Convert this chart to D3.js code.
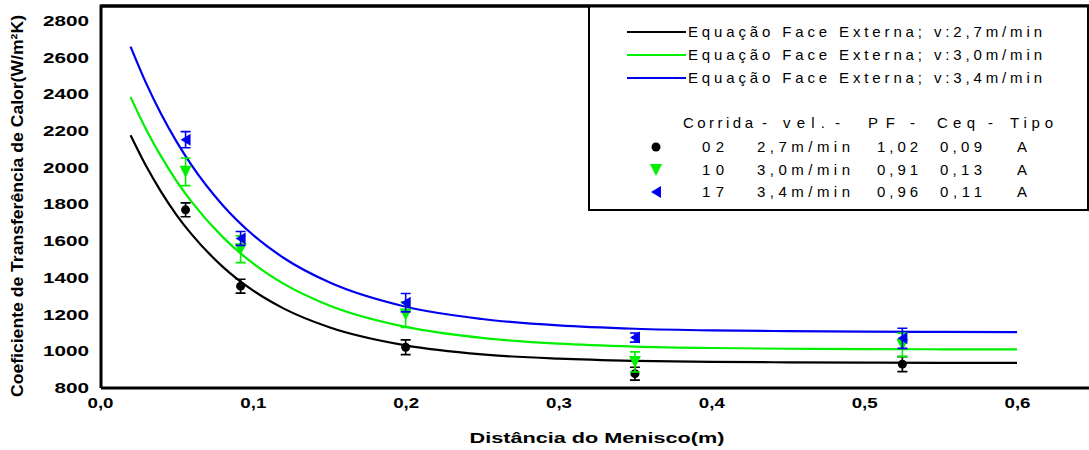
<!DOCTYPE html>
<html>
<head>
<meta charset="utf-8">
<script src="https://cdn.jsdelivr.net/npm/d3@7/dist/d3.min.js"></script>
<style>
  html, body { margin: 0; padding: 0; background: #fff; }
  svg { display: block; }
  text { font-family: "Liberation Sans", Arial, sans-serif; }
</style>
</head>
<body>
<svg id="chart" width="1089" height="450"></svg>
<script>
// Fitted curves (heat-transfer coefficient vs. distance from meniscus)
const curveX = [0.02, 0.03, 0.04, 0.05, 0.06, 0.08, 0.10, 0.12, 0.15, 0.20, 0.25, 0.30, 0.35, 0.40, 0.45, 0.50, 0.55, 0.60];
const fit27 = [2177, 2012, 1869, 1744, 1637, 1463, 1332, 1234, 1131, 1032, 983, 960, 948, 942, 940, 938, 937, 937];
const fit30 = [2385, 2212, 2062, 1929, 1814, 1625, 1480, 1369, 1250, 1133, 1073, 1042, 1026, 1018, 1014, 1012, 1011, 1010];
const fit34 = [2660, 2464, 2293, 2144, 2013, 1799, 1635, 1510, 1376, 1243, 1176, 1141, 1123, 1114, 1110, 1107, 1106, 1105];

// Measured points with error bars
const pointX = [0.056, 0.092, 0.2, 0.35, 0.525];
const run02 = [1771, 1355, 1022, 878, 930];
const err02 = [38, 38, 40, 35, 41];
const run10 = [1978, 1556, 1200, 942, 1035];
const err10 = [75, 73, 70, 55, 64];
const run17 = [2153, 1615, 1265, 1075, 1071];
const err17 = [44, 38, 50, 25, 55];

const xTicks = [0, 0.1, 0.2, 0.3, 0.4, 0.5, 0.6];
const yTicks = [800, 1000, 1200, 1400, 1600, 1800, 2000, 2200, 2400, 2600, 2800];

const fitLabels = [
  "Equação Face Externa; v:2,7m/min",
  "Equação Face Externa; v:3,0m/min",
  "Equação Face Externa; v:3,4m/min"
];
const tableHeader = ["Corrida", "-", "vel.", "-", "PF", "-", "Ceq", "-", "Tipo"];
const runIds = ["02", "10", "17"];
const runVel = ["2,7m/min", "3,0m/min", "3,4m/min"];
const runPF = ["1,02", "0,91", "0,96"];
const runCeq = ["0,09", "0,13", "0,11"];
const runTipo = ["A", "A", "A"];

const colors = ["#000000", "#00f000", "#0000f0"];

const svg = d3.select("#chart");
const plotLeft = 101, plotBottom = 388, plotTop = 6;

const x = d3.scaleLinear().domain([0, 0.6]).range([100, 1017]);
const y = d3.scaleLinear().domain([800, 2800]).range([388, 21]);

const locale = d3.formatLocale({ decimal: ",", thousands: ".", grouping: [3], currency: ["", ""] });
const fmt1 = locale.format(".1f");

// Axes (labels only; frame drawn separately)
const yAxis = svg.append("g")
  .attr("transform", `translate(${plotLeft},0)`)
  .call(d3.axisLeft(y).tickValues(yTicks).tickSize(0).tickPadding(12).tickFormat(d3.format("d")));
yAxis.select(".domain").remove();
yAxis.selectAll("text")
  .attr("font-size", 14).attr("font-weight", "bold").attr("fill", "#000")
  .attr("font-family", "'Liberation Sans', Arial, sans-serif")
  .each(function(d) {
    const n = String(d).length;
    d3.select(this).attr("textLength", n * 11.5).attr("lengthAdjust", "spacingAndGlyphs");
  });

const xAxis = svg.append("g")
  .attr("transform", `translate(0,${plotBottom})`)
  .call(d3.axisBottom(x).tickValues(xTicks).tickSize(0).tickPadding(10).tickFormat(fmt1));
xAxis.select(".domain").remove();
xAxis.selectAll("text")
  .attr("font-size", 14).attr("font-weight", "bold").attr("fill", "#000")
  .attr("font-family", "'Liberation Sans', Arial, sans-serif")
  .attr("textLength", 26).attr("lengthAdjust", "spacingAndGlyphs");

// Plot frame
svg.append("path")
  .attr("d", `M${plotLeft},${plotBottom} L${plotLeft},${plotTop} L1095,${plotTop} M${plotLeft},${plotBottom} L1095,${plotBottom}`)
  .attr("fill", "none").attr("stroke", "#000").attr("stroke-width", 3);

// Axis titles
svg.append("text")
  .attr("transform", "translate(23,206) rotate(-90)")
  .attr("text-anchor", "middle")
  .attr("font-size", 16).attr("font-weight", "bold")
  .attr("textLength", 382).attr("lengthAdjust", "spacingAndGlyphs")
  .text("Coeficiente de Transferência de Calor(W/m²K)");

svg.append("text")
  .attr("x", 597).attr("y", 443)
  .attr("text-anchor", "middle")
  .attr("font-size", 15).attr("font-weight", "bold")
  .attr("textLength", 255).attr("lengthAdjust", "spacingAndGlyphs")
  .text("Distância do Menisco(m)");

// Fitted curves
const line = d3.line().x(d => x(d[0])).y(d => y(d[1])).curve(d3.curveMonotoneX);
[fit27, fit30, fit34].forEach((vals, i) => {
  svg.append("path")
    .datum(curveX.map((cx, j) => [cx, vals[j]]))
    .attr("d", line)
    .attr("fill", "none")
    .attr("stroke", colors[i])
    .attr("stroke-width", 2.2);
});

// Marker shapes
function marker(g, kind, color) {
  if (kind === 0) {
    g.append("circle").attr("r", 4.5).attr("fill", color);
  } else if (kind === 1) {
    g.append("path").attr("d", "M-6,-6 L6,-6 L0,6 Z").attr("fill", color);
  } else {
    g.append("path").attr("d", "M-5,0 L5,-6 L5,6 Z").attr("fill", color);
  }
}

// Data points with error bars
[[run02, err02], [run10, err10], [run17, err17]].forEach(([vals, errs], i) => {
  const g = svg.append("g");
  vals.forEach((v, j) => {
    const px = x(pointX[j]);
    const y1 = y(v + errs[j]), y2 = y(v - errs[j]);
    g.append("path")
      .attr("d", `M${px},${y1} L${px},${y2} M${px - 5},${y1} L${px + 5},${y1} M${px - 5},${y2} L${px + 5},${y2}`)
      .attr("stroke", colors[i]).attr("stroke-width", 1.6).attr("fill", "none");
    const m = g.append("g").attr("transform", `translate(${px},${y(v)})`);
    marker(m, i, colors[i]);
  });
});

// Legend
const lg = svg.append("g");
lg.append("rect")
  .attr("x", 589).attr("y", 6).attr("width", 499).attr("height", 204)
  .attr("fill", "#fff").attr("stroke", "#000").attr("stroke-width", 2);
svg.append("line").attr("x1", plotLeft).attr("x2", 1095).attr("y1", plotTop).attr("y2", plotTop)
  .attr("stroke", "#000").attr("stroke-width", 3);

const legendRows = [32, 55, 78];
fitLabels.forEach((t, i) => {
  lg.append("line")
    .attr("x1", 627).attr("x2", 686).attr("y1", legendRows[i]).attr("y2", legendRows[i])
    .attr("stroke", colors[i]).attr("stroke-width", 2.2);
  lg.append("text")
    .attr("x", 688).attr("y", legendRows[i] + 5)
    .attr("font-size", 15)
    .attr("textLength", 354).attr("lengthAdjust", "spacing")
    .text(t);
});

// Run table header
const headerX = [683, 762, 783, 835, 868, 910, 937, 988, 1010];
const headerW = [70, 0, 42, 0, 27, 0, 38, 0, 43];
tableHeader.forEach((t, k) => {
  const txt = lg.append("text")
    .attr("x", headerX[k]).attr("y", 128)
    .attr("font-size", 15)
    .text(t);
  if (headerW[k] > 0) txt.attr("textLength", headerW[k]).attr("lengthAdjust", "spacing");
});

const rowY = [147, 170, 192];
runIds.forEach((id, i) => {
  const m = lg.append("g").attr("transform", `translate(656,${rowY[i]})`);
  marker(m, i, colors[i]);
  const ty = rowY[i] + 5;
  lg.append("text").attr("x", 713).attr("y", ty).attr("text-anchor", "middle")
    .attr("font-size", 15).attr("textLength", 22).attr("lengthAdjust", "spacing").text(id);
  lg.append("text").attr("x", 757).attr("y", ty)
    .attr("font-size", 15).attr("textLength", 93).attr("lengthAdjust", "spacing").text(runVel[i]);
  lg.append("text").attr("x", 877).attr("y", ty)
    .attr("font-size", 15).attr("textLength", 41).attr("lengthAdjust", "spacing").text(runPF[i]);
  lg.append("text").attr("x", 940).attr("y", ty)
    .attr("font-size", 15).attr("textLength", 42).attr("lengthAdjust", "spacing").text(runCeq[i]);
  lg.append("text").attr("x", 1022).attr("y", ty).attr("text-anchor", "middle")
    .attr("font-size", 15).text(runTipo[i]);
});
</script>
</body>
</html>
